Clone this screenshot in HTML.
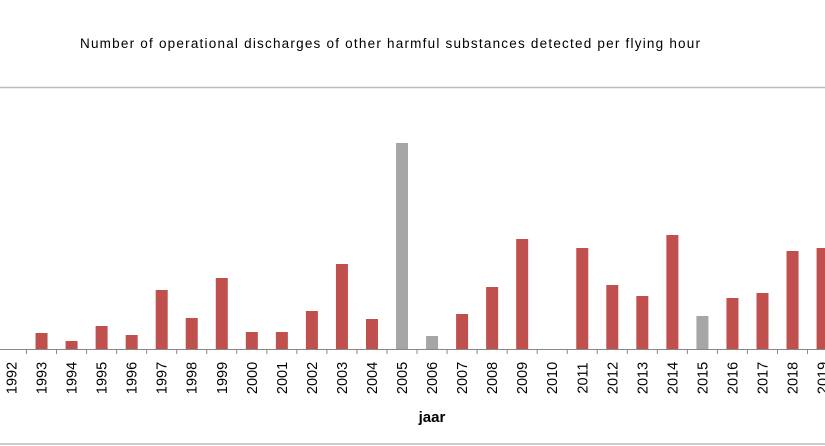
<!DOCTYPE html>
<html><head><meta charset="utf-8"><style>
html,body{margin:0;padding:0;background:#fff;}
svg{display:block;font-family:"Liberation Sans",sans-serif;}
</style></head><body>
<svg width="825" height="446" viewBox="0 0 825 446">
<rect width="825" height="446" fill="#fff"/>
<text x="80" y="48" font-size="13.5" textLength="620" lengthAdjust="spacing" fill="#000">Number of operational discharges of other harmful substances detected per flying hour</text>
<line x1="0" y1="87.5" x2="825" y2="87.5" stroke="#bbb" stroke-width="1.5"/>
<line x1="0" y1="444" x2="825" y2="444" stroke="#bbb" stroke-width="1.5"/>
<g id="bars"></g>
<line x1="0" y1="349.5" x2="825" y2="349.5" stroke="#888" stroke-width="1"/>
<g id="ticks" stroke="#888" stroke-width="1"></g>
<g id="labels" font-size="14.5" fill="#000"></g>
<text x="432" y="422" font-size="15" font-weight="bold" text-anchor="middle">jaar</text>
<script>
var tops={1993:333,1994:341,1995:326,1996:335,1997:290,1998:318,1999:278,2000:332,2001:332,2002:311,2003:264,2004:319,2005:143,2006:336,2007:314,2008:287,2009:239,2011:248,2012:285,2013:296,2014:235,2015:316,2016:298,2017:293,2018:251,2019:248};
var gray={2005:1,2006:1,2015:1};
var ns="http://www.w3.org/2000/svg";
var b=document.getElementById("bars"),t=document.getElementById("ticks"),l=document.getElementById("labels");
for(var i=0;i<28;i++){var y=1992+i;var c=11.5+30.04*i;
 if(tops[y]){var r=document.createElementNS(ns,"rect");r.setAttribute("x",c-6);r.setAttribute("y",tops[y]);r.setAttribute("width",12);r.setAttribute("height",349-tops[y]);r.setAttribute("fill",gray[y]?"#a6a6a6":"#c0504d");b.appendChild(r);}
 var k=document.createElementNS(ns,"line");k.setAttribute("x1",c+15);k.setAttribute("x2",c+15);k.setAttribute("y1",349);k.setAttribute("y2",354);t.appendChild(k);
 var tx=document.createElementNS(ns,"text");tx.setAttribute("transform","translate("+(c+5)+",378) rotate(-90)");tx.setAttribute("text-anchor","middle");tx.textContent=y;l.appendChild(tx);}
</script>
</svg>
</body></html>
